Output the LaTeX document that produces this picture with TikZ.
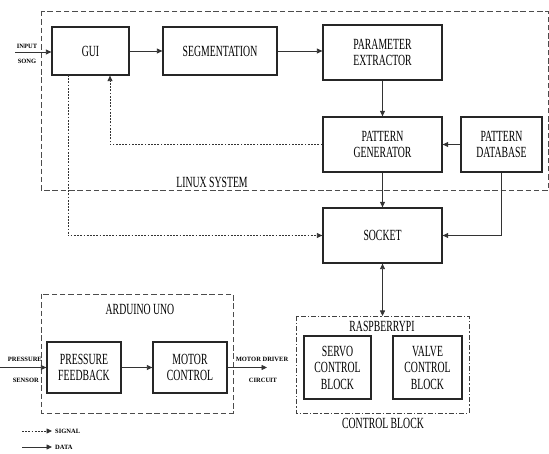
\documentclass[tikz,border=0pt]{standalone}
\usepackage{fontspec}
\setmainfont{Liberation Serif}
\newfontfamily\cf[FakeStretch=0.63]{Liberation Serif}
\usetikzlibrary{arrows.meta}
\begin{document}
\begin{tikzpicture}[x=1pt,y=-1pt,
  blk/.style={draw=black!85,line width=1.3pt,align=center,inner sep=0pt,
    font=\cf\fontsize{15.5}{16.5}\selectfont},
  ttl/.style={font=\cf\fontsize{15.5}{16.5}\selectfont,inner sep=0pt},
  sml/.style={font=\fontsize{6.5}{7.5}\selectfont\bfseries,inner sep=0pt},
  data/.style={draw=black!80,line width=0.8pt,-{Triangle[length=5.5pt,width=5pt]}},
  sig/.style={data,dash pattern=on 1.8pt off 1.4pt},
  grp/.style={draw=black!70,line width=0.9pt,dash pattern=on 5.5pt off 2.8pt},
  grpdd/.style={draw=black!75,line width=0.9pt,dash pattern=on 5pt off 2pt on 1.4pt off 2pt}
]
\useasboundingbox (0,0) rectangle (549,454);
% group boxes
\draw[grp] (41,11) rectangle (548,190.5);
\draw[grp] (41,294) rectangle (233,413);
\draw[grpdd] (296,316) rectangle (469,413);
\node[ttl] (lin) at (212,182) {LINUX SYSTEM};
\node[ttl] (ard) at (140,309) {ARDUINO UNO};
\node[ttl] (rpi) at (382,326) {RASPBERRYPI};
\node[ttl] (cb) at (383,423) {CONTROL BLOCK};
% blocks
\node[blk,minimum width=77pt,minimum height=48pt] (gui) at (90.5,51) {GUI};
\node[blk,minimum width=114pt,minimum height=48pt] (seg) at (220,51) {SEGMENTATION};
\node[blk,minimum width=119pt,minimum height=55pt] (pe) at (382.5,52.5) {PARAMETER\\EXTRACTOR};
\node[blk,minimum width=119pt,minimum height=55pt] (pg) at (382.5,144.5) {PATTERN\\GENERATOR};
\node[blk,minimum width=81pt,minimum height=55pt] (pd) at (501.5,144.5) {PATTERN\\DATABASE};
\node[blk,minimum width=119pt,minimum height=55pt] (sock) at (382.5,235.5) {SOCKET};
\node[blk,minimum width=67pt,minimum height=63pt] (servo) at (337.5,367.5) {SERVO\\CONTROL\\BLOCK};
\node[blk,minimum width=69pt,minimum height=63pt] (valve) at (427.5,367.5) {VALVE\\CONTROL\\BLOCK};
\node[blk,minimum width=74pt,minimum height=51pt] (pf) at (84,367.5) {PRESSURE\\FEEDBACK};
\node[blk,minimum width=74pt,minimum height=51pt] (mc) at (190,367.5) {MOTOR\\CONTROL};
% coordinates
\coordinate (in) at (15,52);
\coordinate (ps) at (0,367.5);
\coordinate (md) at (267,367.5);
\coordinate (rtop) at (382.5,316);
\coordinate (fb) at (110,145);
\coordinate (gd) at (68,75);
% small labels
\node[sml] (inp) at (27,46.5) {INPUT};
\node[sml] (song) at (27,61.5) {SONG};
\node[sml,anchor=east] (pres) at (42,359) {PRESSURE};
\node[sml,anchor=east] (sens) at (39,380) {SENSOR};
\node[sml] (mdl) at (262,359) {MOTOR DRIVER};
\node[sml] (circ) at (263,380) {CIRCUIT};
% connectors
\draw[data] (in) -- (in -| gui.west);
\draw[data] (gui.east) -- (seg.west);
\draw[data] (seg.east) -- (seg.east -| pe.west);
\draw[data] (pe.south) -- (pg.north);
\draw[data] (pd.west) -- (pg.east);
\draw[sig] (pg.west) -| (fb |- gui.south);
\draw[sig] (gd) |- (sock.west);
\draw[data] (pg.south) -- (sock.north);
\draw[data] (pd.south) |- (sock.east);
\draw[data,{Triangle[length=5.5pt,width=5pt]}-{Triangle[length=5.5pt,width=5pt]}] (sock.south) -- (rtop);
\draw[data] (ps) -- (pf.west);
\draw[data] (pf.east) -- (mc.west);
\draw[data] (mc.east) -- (md);
% legend
\coordinate (l1a) at (22,431);
\coordinate (l1b) at (52,431);
\coordinate (l2a) at (22,447);
\coordinate (l2b) at (52,447);
\draw[sig] (l1a) -- (l1b);
\draw[data] (l2a) -- (l2b);
\node[sml,anchor=west] (lsig) at (55,431) {SIGNAL};
\node[sml,anchor=west] (ldat) at (55,447) {DATA};
\end{tikzpicture}
\end{document}
